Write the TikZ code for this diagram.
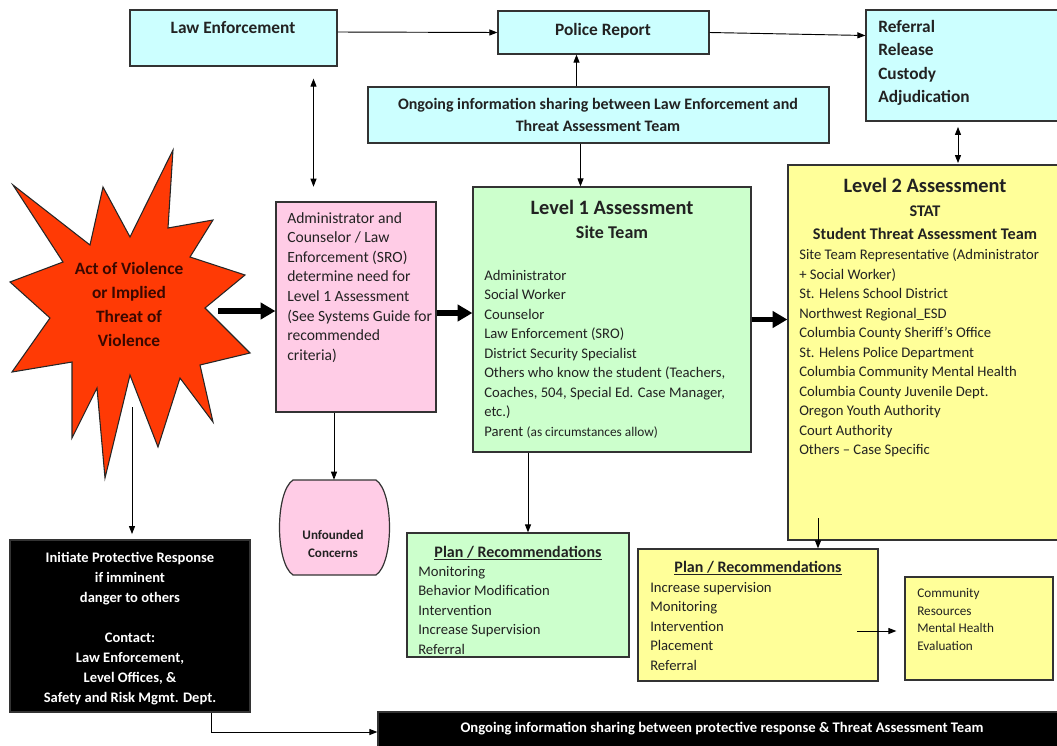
\documentclass[tikz,border=0pt]{standalone}
\usepackage{fontspec}
\setmainfont{Carlito}
\usetikzlibrary{arrows.meta,fit,calc}
\definecolor{cyanbox}{HTML}{CCFFFF}
\definecolor{pinkbox}{HTML}{FFCCE6}
\definecolor{greenbox}{HTML}{CCFFCC}
\definecolor{yellowbox}{HTML}{FFFF99}
\definecolor{starred}{HTML}{FF3A05}
\definecolor{startext}{HTML}{3A0800}
\definecolor{ink}{HTML}{222222}
\newcommand\fnt[2]{\fontsize{#1}{#2}\selectfont}
\begin{document}
\begin{tikzpicture}[x=0.75pt,y=-0.75pt,
  box/.style={draw=black!80, line width=0.9pt, inner sep=0pt},
  txt/.style={inner sep=0pt, text=ink, align=left, font=\fnt{11}{14.6}},
  txtb/.style={inner sep=0pt, text=ink, align=center, font=\bfseries\fnt{12}{16.5}},
  arr/.style={-{Triangle[length=6pt,width=4.5pt]}, line width=0.7pt},
  dbl/.style={{Triangle[length=6pt,width=4.5pt]}-{Triangle[length=6pt,width=4.5pt]}, line width=0.7pt},
  thickarr/.style={-{Triangle[length=11pt,width=12pt]}, line width=3.8pt}]
\useasboundingbox (0,0) rectangle (1057,746);
\clip (0,0) rectangle (1057,746);

% ---------- boxes ----------
\node[box, fill=cyanbox, fit={(130,10) (337,66)}] (le) {};
\node[box, fill=cyanbox, fit={(498,11) (709,54)}] (pr) {};
\node[box, fill=cyanbox, fit={(866,10) (1062,121)}] (ref) {};
\node[box, fill=cyanbox, fit={(368,87) (829,143)}] (ong) {};
\node[box, fill=pinkbox, fit={(276,202) (436,412)}] (pk) {};
\node[box, fill=greenbox, fit={(473,187) (751,452)}] (l1) {};
\node[box, fill=yellowbox, fit={(788,165) (1062,540)}] (l2) {};
\node[box, fill=black, fit={(10,540) (250,712)}] (bb) {};
\node[box, fill=black, fit={(378,712) (1062,752)}] (bar) {};
\node[box, fill=greenbox, fit={(407,533) (629,657)}] (gp) {};
\node[box, fill=yellowbox, fit={(638,549) (878,681)}] (yp) {};
\node[box, fill=yellowbox, fit={(905,577) (1053,680)}] (cm) {};

% unfounded concerns (barrel shape)
\node[inner sep=0pt, fit={(278,480) (390,575)}] (unf) {};
\draw[draw=black!80, line width=0.9pt, fill=pinkbox]
  (293,480) -- (376,480) .. controls (394,492) and (394,563) .. (376,575)
  -- (293,575) .. controls (275,563) and (275,492) .. (293,480) -- cycle;

% star
\draw[draw=black!85, line width=0.8pt, fill=starred]
  (173,150) -- (168,228) -- (213,220) -- (190,257) -- (245,275) -- (205,308)
  -- (250,353) -- (200,365) -- (213,422) -- (180,378) -- (158,447) -- (130,375)
  -- (105,478) -- (97,388) -- (72,438) -- (72,362) -- (12,372) -- (50,318)
  -- (10,282) -- (63,262) -- (13,185) -- (90,245) -- (103,187) -- (130,237) -- cycle;
\node[inner sep=0pt, align=center, text=startext, font=\bfseries\fnt{13}{18}] (star) at (129,304)
  {Act of Violence\\or Implied\\Threat of\\Violence};
\coordinate (sR) at (218,311);
\coordinate (sB) at (132,407);

% ---------- texts ----------
\node[txtb, anchor=base, font=\bfseries\fnt{13}{16}] (le-t) at (233,33) {Law Enforcement};
\node[txtb, anchor=base, font=\bfseries\fnt{13}{16}] (pr-t) at (603,35) {Police Report};
\node[txtb, align=left, anchor=north west, font=\bfseries\fnt{13}{17.6}] (ref-t) at (878,20)
  {Referral\\Release\\Custody\\Adjudication};
\node[txtb] (ong-t) at (598,115)
  {Ongoing information sharing between Law Enforcement and\\Threat Assessment Team};
\node[txt, anchor=north west, font=\fnt{11.7}{14.7}] (pk-t) at (287,212)
  {Administrator and\\Counselor / Law\\Enforcement (SRO)\\determine need for\\Level 1 Assessment\\(See Systems Guide for\\recommended\\criteria)};

\node[txtb, anchor=base, font=\bfseries\fnt{15.3}{18}] (l1-h) at (612,214) {Level 1 Assessment};
\node[txtb, anchor=base, font=\bfseries\fnt{13.5}{16}] (l1-s) at (612,238) {Site Team};
\node[txt, anchor=north west] (l1-t) at (484,270)
  {Administrator\\Social Worker\\Counselor\\Law Enforcement (SRO)\\District Security Specialist\\Others who know the student (Teachers,\\Coaches, 504, Special Ed. Case Manager,\\etc.)\\Parent {\fnt{10}{14.6}(as circumstances allow)}};

\node[txtb, anchor=base, font=\bfseries\fnt{15.3}{18}] (l2-h) at (925,192) {Level 2 Assessment};
\node[txtb, anchor=base, font=\bfseries\fnt{12.2}{14}] (l2-s) at (925,216) {STAT};
\node[txtb, anchor=base, font=\bfseries\fnt{12.2}{14}] (l2-u) at (925,239) {Student Threat Assessment Team};
\node[txt, anchor=north west] (l2-t) at (799,249)
  {Site Team Representative (Administrator\\+ Social Worker)\\St. Helens School District\\Northwest Regional\_ESD\\Columbia County Sheriff’s Office\\St. Helens Police Department\\Columbia Community Mental Health\\Columbia County Juvenile Dept.\\Oregon Youth Authority\\Court Authority\\Others -- Case Specific};

\node[txtb, anchor=base, font=\bfseries\fnt{12}{14}] (gp-h) at (518,557) {\underline{Plan / Recommendations}};
\node[txt, anchor=north west] (gp-t) at (418,566)
  {Monitoring\\Behavior Modification\\Intervention\\Increase Supervision\\Referral};

\node[txtb, anchor=base, font=\bfseries\fnt{12}{14}] (yp-h) at (758,572) {\underline{Plan / Recommendations}};
\node[txt, anchor=north west] (yp-t) at (650,582)
  {Increase supervision\\Monitoring\\Intervention\\Placement\\Referral};

\node[txt, anchor=north west, font=\fnt{9.9}{13.3}] (cm-t) at (917,588)
  {Community\\Resources\\Mental Health\\Evaluation};

\node[txtb, text=white, font=\bfseries\fnt{10.9}{15}] (bb-t) at (130,629)
  {Initiate Protective Response\\if imminent\\danger to others\\[15pt]Contact:\\Law Enforcement,\\Level Offices, \&\\Safety and Risk Mgmt. Dept.};
\node[txtb, text=white, font=\bfseries\fnt{11}{14}] (bar-t) at (722,729)
  {Ongoing information sharing between protective response \& Threat Assessment Team};

\node[txtb, font=\bfseries\fnt{9.8}{13.5}] (unf-t) at (333,544) {Unfounded\\Concerns};

% ---------- connectors ----------
\draw[arr] ($(le.east)+(0,-6)$) -- (pr.west);
\draw[arr] (pr.east) -- ($(ref.west)+(0,-30)$);
\coordinate (o0) at ($(ong.north)+(-22,0)$);
\draw[arr] (o0) -- (o0 |- pr.south);
\coordinate (o1) at ($(ong.south)+(-18,0)$);
\draw[arr] (o1) -- (o1 |- l1.north);
\coordinate (p1) at ($(le.south)+(80,0)$);
\draw[dbl, shorten <=9pt, shorten >=11pt] (p1) -- (p1 |- pk.north);
\coordinate (r1) at ($(ref.south)+(-6,0)$);
\draw[dbl, shorten <=4pt, shorten >=1pt] (r1) -- (r1 |- l2.north);

\draw[thickarr] (sR) -- (sR -| pk.west);
\coordinate (k1) at ($(pk.east)+(0,6)$);
\draw[thickarr] (k1) -- (k1 -| l1.west);
\draw[thickarr] (l1.east) -- (l1.east -| l2.west);

\draw[arr] (unf.north |- pk.south) -- (unf.north);
\draw[arr, shorten >=4pt] (sB) -- (sB |- bb.north);
\coordinate (g1) at (528,0);
\draw[arr] (g1 |- l1.south) -- (g1 |- gp.north);
\coordinate (y1) at (818,518);
\draw[arr] (y1) -- (y1 |- yp.north);
\coordinate (y2) at (857,631);
\draw[arr, shorten >=6pt] (y2) -- (y2 -| cm.west);
\coordinate (b1) at (211,0);
\draw[arr] (b1 |- bb.south) |- (bar.west);
\end{tikzpicture}
\end{document}
